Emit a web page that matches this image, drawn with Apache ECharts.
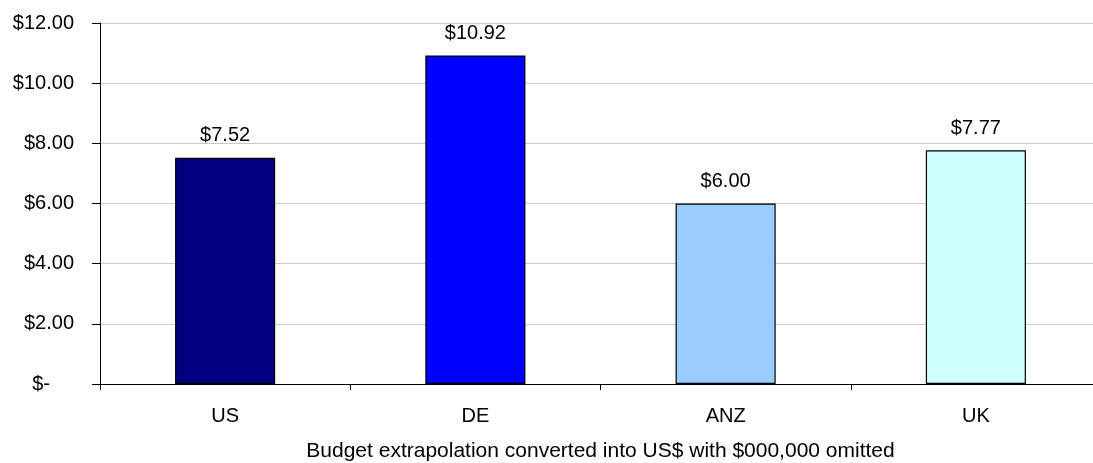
<!DOCTYPE html>
<html>
<head>
<meta charset="utf-8">
<script src="https://cdn.jsdelivr.net/npm/echarts@6/dist/echarts.min.js"></script>
<style>
  html, body { margin: 0; padding: 0; background: #fff; }
  #chart { width: 1093px; height: 463px; }
</style>
</head>
<body>
<div id="chart"></div>
<script>
const regions = ['US', 'DE', 'ANZ', 'UK']
const budget = [7.52, 10.92, 6.00, 7.77]
const barColors = ['#000080', '#0000ff', '#99ccff', '#ccffff']
const axisName = 'Budget extrapolation converted into US$ with $000,000 omitted'

const fontFamily = '"Liberation Sans", Arial, sans-serif'
const fontSize = 20

const chart = echarts.init(document.getElementById('chart'))

chart.setOption({
  animation: false,
  textStyle: { fontFamily },
  grid: {
    left: 100,
    top: 23,
    bottom: 79,
    width: 1001,
    // plot area runs past the right edge of the picture
    outerBoundsMode: 'none',
    containLabel: false
  },
  xAxis: {
    type: 'category',
    data: regions,
    name: axisName,
    nameLocation: 'middle',
    nameGap: 57,
    nameTextStyle: { color: '#000', fontSize: 21, fontFamily },
    axisLine: { lineStyle: { color: '#000', width: 1 } },
    axisTick: { show: true, length: 6, lineStyle: { color: '#000' } },
    axisLabel: { color: '#000', fontSize, margin: 22, fontFamily }
  },
  yAxis: {
    type: 'value',
    min: 0,
    max: 12,
    interval: 2,
    axisLine: { show: true, lineStyle: { color: '#000', width: 1 } },
    axisTick: { show: true, length: 8, lineStyle: { color: '#000' } },
    splitLine: { lineStyle: { color: '#c8c8c8', width: 1 } },
    axisLabel: {
      color: '#000',
      fontSize,
      margin: 26,
      fontFamily,
      formatter(value) {
        // accounting format: zero shows as a dash
        if (value === 0) return '{dash|$-}'
        return '$' + value.toFixed(2)
      },
      rich: {
        dash: { color: '#000', fontSize, fontFamily, padding: [0, 24, 0, 0] }
      }
    }
  },
  series: [{
    type: 'bar',
    barWidth: '40%',
    data: budget.map((v, i) => ({
      value: v,
      itemStyle: { color: barColors[i] }
    })),
    itemStyle: { borderColor: '#000', borderWidth: 1.2 },
    label: {
      show: true,
      position: 'top',
      distance: 12,
      color: '#000',
      fontSize,
      fontFamily,
      formatter: p => '$' + p.value.toFixed(2)
    }
  }]
})
</script>
</body>
</html>
